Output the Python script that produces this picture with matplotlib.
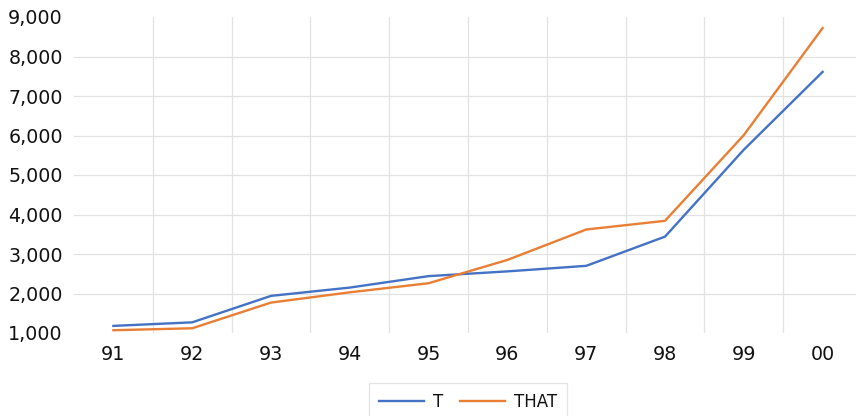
import matplotlib
matplotlib.use("Agg")
import matplotlib.pyplot as plt
from matplotlib.ticker import FuncFormatter

# Yearly totals for the two series
years = ["91", "92", "93", "94", "95", "96", "97", "98", "99", "00"]
t_values = [1180, 1270, 1940, 2150, 2440, 2560, 2700, 3440, 5640, 7610]
that_values = [1070, 1120, 1770, 2030, 2260, 2850, 3620, 3840, 6010, 8720]
y_ticks = [1000, 2000, 3000, 4000, 5000, 6000, 7000, 8000, 9000]

plt.rcParams["font.family"] = ["DejaVu Sans"]
text_color = "#111111"
grid_color = "#e2e2e2"

fig = plt.figure(figsize=(8.56, 4.16), dpi=100)
ax = fig.add_axes([74 / 856, 83 / 416, 788 / 856, 316 / 416])

x = list(range(len(years)))
ax.plot(x, t_values, color="#4472C4", linewidth=1.7, label="T")
ax.plot(x, that_values, color="#E97F35", linewidth=1.7, label="THAT")

ax.set_xlim(-0.5, len(years) - 0.5)
ax.set_ylim(y_ticks[0], y_ticks[-1])
ax.set_yticks(y_ticks)
ax.yaxis.set_major_formatter(FuncFormatter(lambda v, _: f"{int(v):,}"))
ax.set_xticks(x)
ax.set_xticklabels(years)

ax.tick_params(axis="both", which="major", length=0, labelsize=13.7,
               labelcolor=text_color)
ax.tick_params(axis="y", pad=8)
ax.tick_params(axis="x", pad=9)

# inner horizontal grid (edges left open)
for v in y_ticks[1:-1]:
    ax.axhline(v, color=grid_color, linewidth=0.9, zorder=0)
# vertical separators between categories
for i in x[:-1]:
    ax.axvline(i + 0.5, color=grid_color, linewidth=0.9, zorder=0)

for s in ax.spines.values():
    s.set_visible(False)

leg = fig.legend(loc="upper center", bbox_to_anchor=(468 / 856, 1 - 383 / 416),
                 ncol=2, frameon=True, fancybox=False, fontsize=12,
                 handlelength=2.7, handletextpad=0.55, columnspacing=1.0,
                 borderpad=0.6, borderaxespad=0)
leg.get_frame().set_edgecolor("#dedede")
leg.get_frame().set_linewidth(0.9)
for txt in leg.get_texts():
    txt.set_color(text_color)

fig.savefig("out.png", dpi=100)
